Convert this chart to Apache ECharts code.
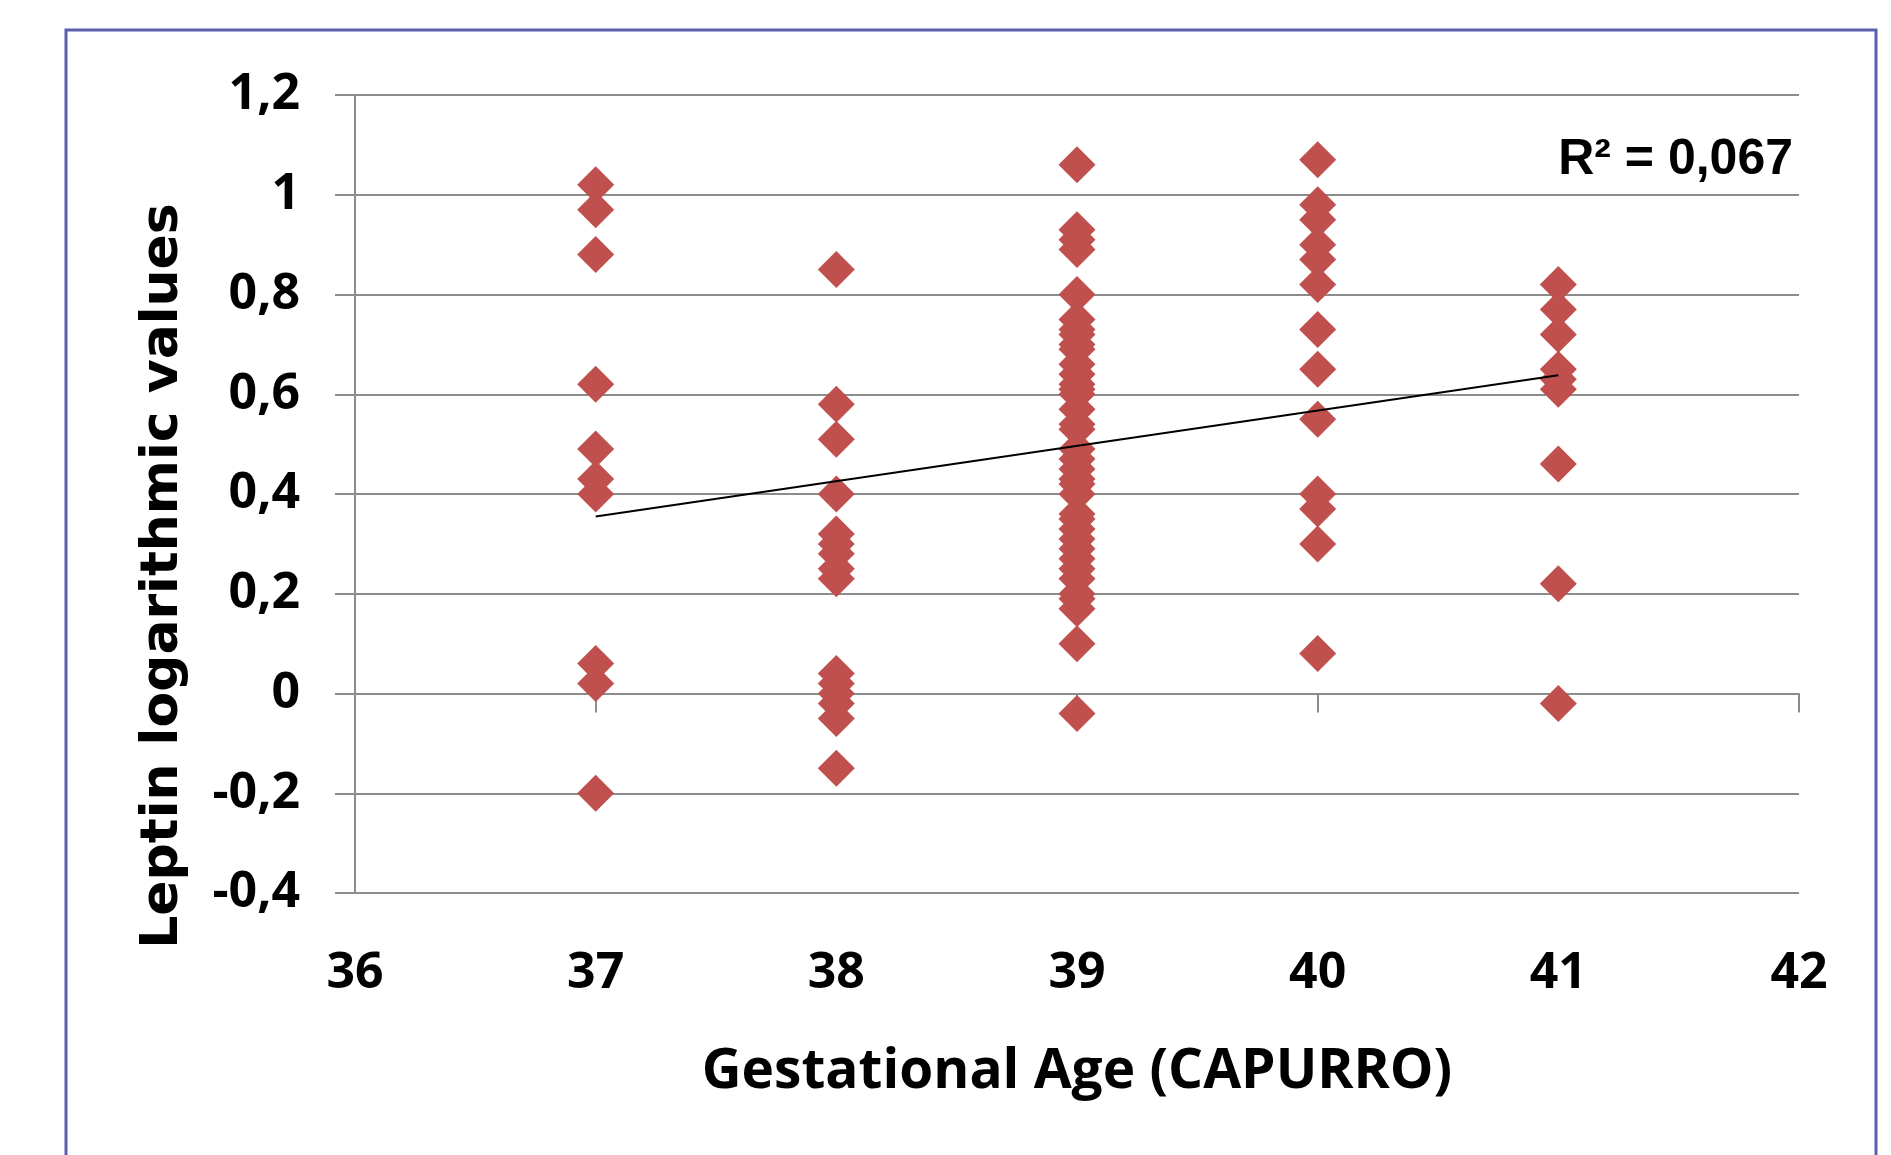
<!DOCTYPE html>
<html>
<head>
<meta charset="utf-8">
<script src="https://cdn.jsdelivr.net/npm/echarts@6/dist/echarts.min.js"></script>
<style>
html,body{margin:0;padding:0;background:#fff;}
#chart{width:1891px;height:1155px;}
</style>
</head>
<body>
<div id="chart"></div>
<script>
// ---- data ----
const gestAges = [37, 38, 39, 40, 41];
const leptin37 = [1.02, 0.97, 0.88, 0.62, 0.49, 0.43, 0.40, 0.06, 0.02, -0.20];
const leptin38 = [0.85, 0.58, 0.51, 0.40, 0.32, 0.30, 0.28, 0.25, 0.23, 0.04, 0.02, 0.00, -0.02, -0.05, -0.15];
const leptin39 = [1.06, 0.93, 0.91, 0.89, 0.80, 0.75, 0.73, 0.72, 0.70, 0.69, 0.66, 0.64, 0.62, 0.61, 0.60, 0.57, 0.54, 0.53,
                  0.49, 0.47, 0.45, 0.43, 0.42, 0.40, 0.36, 0.35, 0.33, 0.31, 0.29, 0.27, 0.25, 0.23, 0.20, 0.19, 0.17, 0.10, -0.04];
const leptin40 = [1.07, 0.98, 0.95, 0.90, 0.87, 0.82, 0.73, 0.65, 0.55, 0.40, 0.37, 0.30, 0.08];
const leptin41 = [0.82, 0.77, 0.72, 0.65, 0.63, 0.61, 0.46, 0.22, -0.02];
const trendX = [37, 41];
const trendY = [0.355, 0.638];
const xTickValues = [36, 37, 38, 39, 40, 41, 42];
const yTickValues = [-0.4, -0.2, 0, 0.2, 0.4, 0.6, 0.8, 1.0, 1.2];
const r2Text = 'R\u00B2 = 0,067';
const xTitle = 'Gestational Age (CAPURRO)';
const yTitle = 'Leptin logarithmic values';

// ---- build series data ----
const groups = [leptin37, leptin38, leptin39, leptin40, leptin41];
const scatterData = [];
groups.forEach((vals, i) => vals.forEach(v => scatterData.push([gestAges[i], v])));
const trendData = trendX.map((x, i) => [x, trendY[i]]);

const gridColor = '#8c8c8c';
const labelFont = "'Open Sans', sans-serif";
const fmtY = v => String(Math.round(v * 10) / 10).replace('.', ',');

const chart = echarts.init(document.getElementById('chart'), null, {renderer: 'canvas'});
chart.setOption({
  backgroundColor: '#ffffff',
  animation: false,
  grid: {left: 355, right: 92, top: 95, bottom: 262},
  xAxis: [
    {
      type: 'value', min: xTickValues[0], max: xTickValues[xTickValues.length - 1], interval: 1,
      position: 'bottom',
      axisLine: {show: true, onZero: true, lineStyle: {color: gridColor, width: 2}},
      axisTick: {show: true, length: 19, lineStyle: {color: gridColor, width: 2}},
      axisLabel: {show: false},
      splitLine: {show: false}
    },
    {
      type: 'value', min: xTickValues[0], max: xTickValues[xTickValues.length - 1], interval: 1,
      position: 'bottom',
      axisLine: {show: false, onZero: false},
      axisTick: {show: false},
      axisLabel: {show: true, margin: 56, color: '#000', fontFamily: labelFont, fontWeight: 'bold', fontSize: 50},
      splitLine: {show: false},
      name: xTitle, nameLocation: 'middle', nameGap: 152,
      nameTextStyle: {color: '#000', fontFamily: labelFont, fontWeight: 'bold', fontSize: 55}
    }
  ],
  yAxis: {
    type: 'value', min: yTickValues[0], max: yTickValues[yTickValues.length - 1], interval: 0.2,
    axisLine: {show: true, onZero: false, lineStyle: {color: gridColor, width: 2}},
    axisTick: {show: true, length: 20, lineStyle: {color: gridColor, width: 2}},
    axisLabel: {show: true, margin: 55, color: '#000', fontFamily: labelFont, fontWeight: 'bold', fontSize: 50, formatter: fmtY},
    splitLine: {show: true, lineStyle: {color: gridColor, width: 2}}
  },
  series: [
    {
      type: 'scatter', xAxisIndex: 0, yAxisIndex: 0,
      symbol: 'diamond', symbolSize: 37,
      itemStyle: {color: '#c0504d', opacity: 1},
      data: scatterData, z: 2
    },
    {
      type: 'line', xAxisIndex: 0, yAxisIndex: 0,
      showSymbol: false, symbol: 'none',
      lineStyle: {color: '#000', width: 2},
      data: trendData, z: 3
    }
  ],
  graphic: [
    {
      type: 'rect', silent: true, z: 100,
      shape: {x: 66, y: 30, width: 1810, height: 1200},
      style: {fill: 'none', stroke: '#5c5fb0', lineWidth: 3}
    },
    {
      type: 'text', silent: true, z: 100,
      x: 163, y: 576, rotation: Math.PI / 2,
      style: {text: yTitle, font: "bold 52px 'DejaVu Sans'", fill: '#000', textAlign: 'center', textVerticalAlign: 'middle'}
    },
    {
      type: 'text', silent: true, z: 100,
      x: 1793, y: 160,
      style: {text: r2Text, font: "bold 50px 'Liberation Sans'", fill: '#000', textAlign: 'right', textVerticalAlign: 'middle'}
    }
  ]
});
</script>
</body>
</html>
